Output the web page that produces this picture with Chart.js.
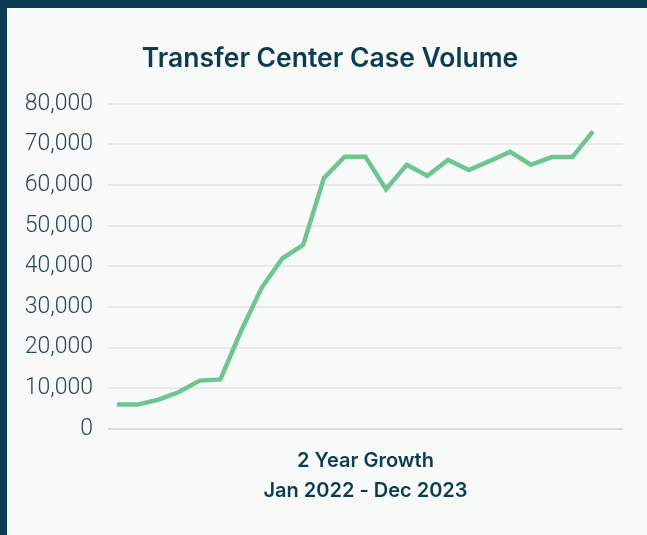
<!DOCTYPE html>
<html>
<head>
<meta charset="utf-8">
<script src="https://cdn.jsdelivr.net/npm/chart.js@4"></script>
<style>
  html, body { margin: 0; padding: 0; }
  body { background: #0b3c51; width: 647px; height: 535px; overflow: hidden; }
  .panel { position: absolute; left: 7px; top: 8px; width: 640px; height: 527px; background: #f8f9f9; }
</style>
</head>
<body>
<div class="panel">
  <canvas id="grafico" width="640" height="527"></canvas>
</div>
<script>
const meses = ['Jan 2022', 'Fev 2022', 'Mar 2022', 'Abr 2022', 'Mai 2022', 'Jun 2022',
  'Jul 2022', 'Ago 2022', 'Set 2022', 'Out 2022', 'Nov 2022', 'Dez 2022',
  'Jan 2023', 'Fev 2023', 'Mar 2023', 'Abr 2023', 'Mai 2023', 'Jun 2023',
  'Jul 2023', 'Ago 2023', 'Set 2023', 'Out 2023', 'Nov 2023', 'Dez 2023'];
const casos = [6000, 6000, 7200, 9100, 11900, 12200, 24100, 34800, 42000, 45300, 61700, 67000,
  67000, 59000, 65000, 62300, 66200, 63700, 65900, 68200, 65000, 66900, 66900, 73200];
const tituloX = ['2 Year Growth', 'Jan 2022 - Dec 2023'];

const escuro = '#0d3b4f';
const ctx = document.getElementById('grafico');

new Chart(ctx, {
  type: 'line',
  data: {
    datasets: [{
      label: 'Transfer Center Case Volume',
      data: casos.map((v, i) => ({ x: i, y: v, mes: meses[i] })),
      borderColor: '#6ec591',
      backgroundColor: '#6ec591',
      borderWidth: 4.5,
      pointRadius: 0,
      tension: 0,
      borderJoinStyle: 'miter'
    }]
  },
  options: {
    responsive: false,
    animation: false,
    layout: { padding: { top: 35, right: 13, left: 19, bottom: 25 } },
    plugins: {
      legend: { display: false },
      tooltip: { enabled: false },
      title: {
        display: true,
        text: 'Transfer Center Case Volume',
        color: escuro,
        font: { family: 'Inter', size: 26.5, weight: 600 },
        padding: { top: 0, bottom: 29 }
      }
    },
    scales: {
      x: {
        type: 'linear',
        min: -0.43,
        max: 24.45,
        grid: { display: false },
        border: { display: false },
        ticks: { display: false },
        title: {
          display: true,
          text: tituloX,
          color: escuro,
          font: { family: 'Inter', size: 20, weight: 600, lineHeight: 1.5 },
          padding: { top: 9 }
        }
      },
      y: {
        min: 0,
        max: 80000,
        afterFit: (s) => { s.width = 82; },
        grid: {
          color: (c) => c.tick.value === 0 ? '#dcdcdc' : '#e8e8e8',
          lineWidth: 2,
          drawTicks: false
        },
        border: { display: false },
        ticks: {
          stepSize: 10000,
          padding: 15,
          color: '#2a4552',
          font: { family: 'Roboto', size: 23, weight: 300 },
          callback: (v) => v.toLocaleString('en-US')
        }
      },
      // empty strip on the right so the title sits where it does in the original
      margem: {
        position: 'right',
        afterFit: (s) => { s.width = 11; },
        grid: { display: false },
        border: { display: false },
        ticks: { display: false }
      }
    }
  }
});
</script>
</body>
</html>
